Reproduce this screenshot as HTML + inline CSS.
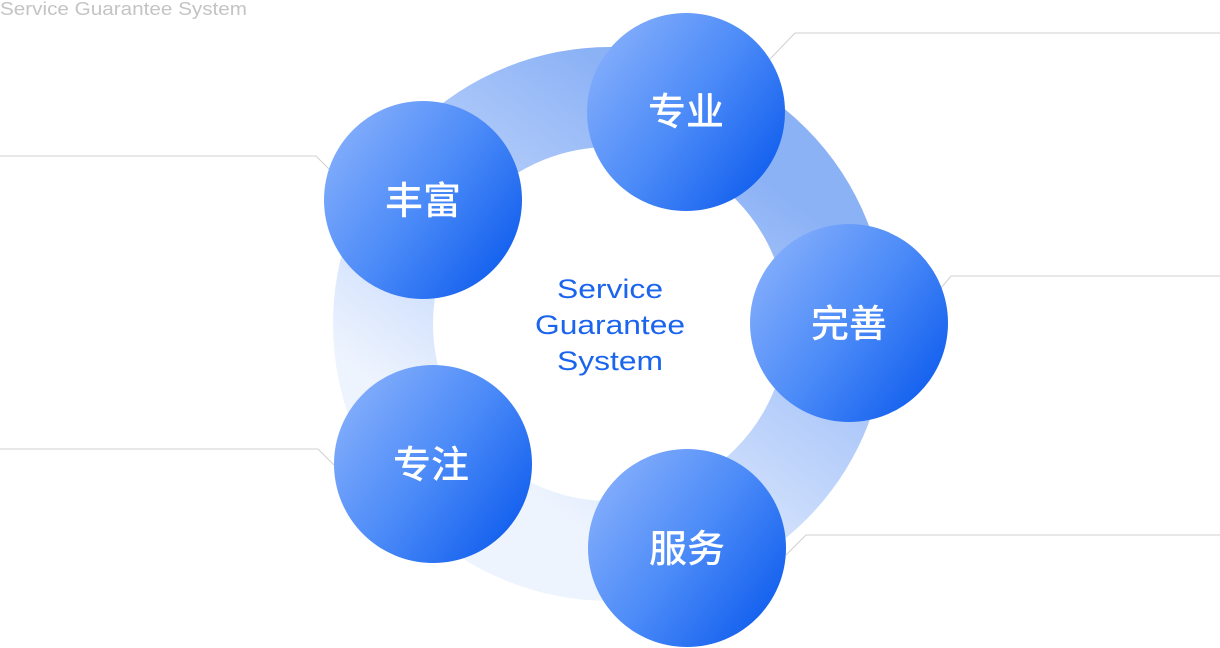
<!DOCTYPE html>
<html><head><meta charset="utf-8"><style>
html,body{margin:0;padding:0;background:#fff;width:1220px;height:648px;overflow:hidden}
svg{display:block}
</style></head><body>
<svg width="1220" height="648" viewBox="0 0 1220 648" xmlns="http://www.w3.org/2000/svg">
<defs>
<linearGradient id="ring" x1="0.15" y1="0.75" x2="0.65" y2="0.05">
<stop offset="0" stop-color="#eef4fe"/>
<stop offset="0.45" stop-color="#c0d5fb"/>
<stop offset="1" stop-color="#8cb2f6"/>
</linearGradient>
<linearGradient id="c" x1="0.1" y1="0.2" x2="0.9" y2="0.8">
<stop offset="0" stop-color="#7eaafb"/>
<stop offset="0.5" stop-color="#4c8bf8"/>
<stop offset="1" stop-color="#1763ef"/>
</linearGradient>
</defs>
<text x="0" y="15" font-family="Liberation Sans, sans-serif" font-size="18" fill="#c4c4c4" textLength="247" lengthAdjust="spacingAndGlyphs">Service Guarantee System</text>
<circle cx="610" cy="324" r="227" fill="none" stroke="url(#ring)" stroke-width="100"/>
<g stroke="#d0d0d0" stroke-width="1" fill="none">
<polyline points="770,59 795,33 1220,33"/>
<polyline points="941,288 951,276 1220,276"/>
<polyline points="786,555 806,535 1220,535"/>
<polyline points="0,156 316,156 332,172"/>
<polyline points="0,449 318,449 334,465"/>
</g>
<g fill="url(#c)">
<circle cx="686" cy="112" r="99"/>
<circle cx="423" cy="200" r="99"/>
<circle cx="849" cy="323" r="99"/>
<circle cx="433" cy="464" r="99"/>
<circle cx="687" cy="548" r="99"/>
</g>
<g font-family="Liberation Sans, 'Noto Sans CJK SC', sans-serif" font-size="38" fill="#fff" text-anchor="middle" font-weight="500">
<text x="686" y="125">专业</text>
<text x="423" y="214">丰富</text>
<text x="849" y="337">完善</text>
<text x="431" y="478">专注</text>
<text x="687" y="562">服务</text>
</g>
<g font-family="Liberation Sans, sans-serif" font-size="27" fill="#1a64ee" text-anchor="middle">
<text x="610" y="298" textLength="106" lengthAdjust="spacingAndGlyphs">Service</text>
<text x="610" y="334" textLength="150" lengthAdjust="spacingAndGlyphs">Guarantee</text>
<text x="610" y="370" textLength="106" lengthAdjust="spacingAndGlyphs">System</text>
</g>
</svg>
</body></html>
